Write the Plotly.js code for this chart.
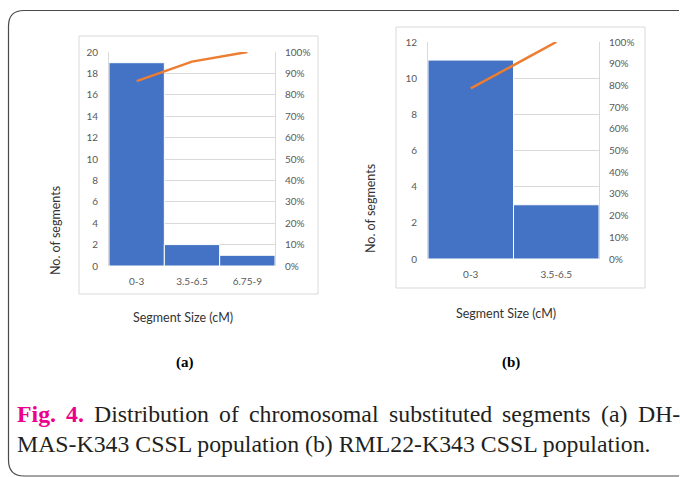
<!DOCTYPE html>
<html>
<head>
<meta charset="utf-8">
<script src="https://cdn.plot.ly/plotly-3.0.1.min.js"></script>
<style>html,body{margin:0;padding:0;background:#fff;}#chart{width:680px;height:477px;}</style>
</head>
<body>
<div id="chart"></div>
<script>
// ---- data ----
const catsA = ['0-3', '3.5-6.5', '6.75-9'];
const countsA = [19, 2, 1];
const cumPctA = [86.4, 95.5, 100];

const catsB = ['0-3', '3.5-6.5'];
const countsB = [11, 3];
const cumPctB = [78.6, 100];

const yTicksA = [0, 2, 4, 6, 8, 10, 12, 14, 16, 18, 20];
const yTicksB = [0, 2, 4, 6, 8, 10, 12];
const pctTicks = [0, 10, 20, 30, 40, 50, 60, 70, 80, 90, 100];
const pctLabels = ['0%', '10%', '20%', '30%', '40%', '50%', '60%', '70%', '80%', '90%', '100%'];

const xTitle = 'Segment Size (cM)';
const yTitle = 'No. of segments';
const panelLabels = ['(a)', '(b)'];
const captionLine1 = ['Fig.', '4.', 'Distribution', 'of', 'chromosomal', 'substituted', 'segments', '(a)', 'DH-'];
const captionBold = [true, true, false, false, false, false, false, false, false];
const captionLine2 = 'MAS-K343 CSSL population (b) RML22-K343 CSSL population.';

// ---- helpers ----
const W = 680, H = 477;
const px = x => x / W;
const py = y => 1 - y / H;

const BLUE = '#4472C4', ORANGE = '#ED7D31', GRID = '#d9d9d9', TICK = '#595959';
const tickFont = {family: 'Lato, sans-serif', size: 10, color: TICK};
const titleFont = {family: 'Lato, sans-serif', size: 12.5, color: '#333333'};

// ---- traces ----
const traces = [
  {type: 'bar', x: catsA, y: countsA, xaxis: 'x', yaxis: 'y',
   marker: {color: BLUE, line: {color: '#ffffff', width: 1}}, hoverinfo: 'none'},
  {type: 'scatter', mode: 'lines', x: catsA, y: cumPctA, xaxis: 'x', yaxis: 'y2',
   line: {color: ORANGE, width: 2.5}, hoverinfo: 'none'},
  {type: 'bar', x: catsB, y: countsB, xaxis: 'x2', yaxis: 'y3',
   marker: {color: BLUE, line: {color: '#ffffff', width: 1}}, hoverinfo: 'none'},
  {type: 'scatter', mode: 'lines', x: catsB, y: cumPctB, xaxis: 'x2', yaxis: 'y4',
   line: {color: ORANGE, width: 2.5}, hoverinfo: 'none'}
];

function xAx(domain, n) {
  return {domain: domain, type: 'category', range: [-0.5, n - 0.5], showgrid: false,
    zeroline: false, showline: false, ticks: '', tickfont: tickFont, ticklabelstandoff: 8, fixedrange: true};
}
function yLeft(domain, ticks, anchor) {
  return {domain: domain, anchor: anchor, range: [ticks[0], ticks[ticks.length - 1]],
    tickmode: 'array', tickvals: ticks,
    showgrid: true, gridcolor: GRID, gridwidth: 1, zeroline: false, showline: true, linecolor: GRID,
    linewidth: 1, ticks: '', tickfont: tickFont, ticklabelstandoff: 8, layer: 'below traces'};
}
function yRight(overlay, anchor) {
  return {overlaying: overlay, anchor: anchor, side: 'right', range: [0, 100],
    tickmode: 'array', tickvals: pctTicks, ticktext: pctLabels,
    showgrid: false, zeroline: false, showline: true, linecolor: GRID, linewidth: 1,
    ticks: '', tickfont: tickFont, ticklabelstandoff: 7, layer: 'below traces'};
}

// ---- caption layout (justified line 1) ----
const ctx = document.createElement('canvas').getContext('2d');
function tw(text, fs, bold) {
  ctx.font = (bold ? 'bold ' : '') + fs + 'px "Liberation Serif"';
  return ctx.measureText(text).width;
}
const capLeft = 17, line2Right = 652, line1Right = 680;
let capFs = 100 * (line2Right - capLeft) / tw(captionLine2, 100, false);
capFs = Math.round(capFs * 10) / 10;
const widths = captionLine1.map((w, i) => tw(w, capFs, captionBold[i]));
const totalW = widths.reduce((a, b) => a + b, 0);
const gap = (line1Right - capLeft - totalW) / (captionLine1.length - 1);

const annotations = [];
let cx = capLeft;
captionLine1.forEach((w, i) => {
  annotations.push({xref: 'paper', yref: 'paper', x: px(cx), y: py(414), xanchor: 'left', yanchor: 'middle',
    text: captionBold[i] ? '<b>' + w + '</b>' : w, showarrow: false, borderpad: 0, borderwidth: 0,
    font: {family: 'Liberation Serif, serif', size: capFs, color: captionBold[i] ? '#EC008C' : '#231F20'}});
  cx += widths[i] + gap;
});
annotations.push({xref: 'paper', yref: 'paper', x: px(capLeft), y: py(444), xanchor: 'left', yanchor: 'middle',
  text: captionLine2, showarrow: false, borderpad: 0, borderwidth: 0,
  font: {family: 'Liberation Serif, serif', size: capFs, color: '#231F20'}});

// panel labels
[[185, panelLabels[0]], [511, panelLabels[1]]].forEach(([x, t]) => {
  annotations.push({xref: 'paper', yref: 'paper', x: px(x), y: py(362), xanchor: 'center', yanchor: 'middle',
    text: '<b>' + t + '</b>', showarrow: false, font: {family: 'Liberation Serif, serif', size: 15, color: '#000'}});
});
// axis titles
annotations.push({xref: 'paper', yref: 'paper', x: px(183), y: py(317), xanchor: 'center', yanchor: 'middle',
  text: xTitle, showarrow: false, font: titleFont});
annotations.push({xref: 'paper', yref: 'paper', x: px(506), y: py(313), xanchor: 'center', yanchor: 'middle',
  text: xTitle, showarrow: false, font: titleFont});
annotations.push({xref: 'paper', yref: 'paper', x: px(55), y: py(231), xanchor: 'center', yanchor: 'middle',
  text: yTitle, textangle: -90, showarrow: false, font: titleFont});
annotations.push({xref: 'paper', yref: 'paper', x: px(370), y: py(208), xanchor: 'center', yanchor: 'middle',
  text: yTitle, textangle: -90, showarrow: false, font: titleFont});

// ---- shapes: chart boxes and outer frame ----
const shapes = [
  {type: 'rect', xref: 'paper', yref: 'paper', x0: px(79), x1: px(318), y0: py(294), y1: py(36),
   line: {color: GRID, width: 1}, layer: 'below'},
  {type: 'rect', xref: 'paper', yref: 'paper', x0: px(396), x1: px(645), y0: py(288), y1: py(27),
   line: {color: GRID, width: 1}, layer: 'below'},
  {type: 'path', xref: 'paper', yref: 'paper',
   path: 'M ' + px(679) + ',' + py(10.5) + ' L ' + px(24) + ',' + py(10.5) +
         ' Q ' + px(8.5) + ',' + py(10.5) + ' ' + px(8.5) + ',' + py(26) +
         ' L ' + px(8.5) + ',' + py(460) +
         ' Q ' + px(8.5) + ',' + py(476) + ' ' + px(24) + ',' + py(476) +
         ' L ' + px(679) + ',' + py(476),
   line: {color: '#4a4a4a', width: 1.2}, layer: 'below'}
];

const layout = {
  width: W, height: H, autosize: false,
  margin: {l: 0, r: 0, t: 0, b: 0},
  paper_bgcolor: '#ffffff', plot_bgcolor: 'rgba(0,0,0,0)',
  showlegend: false, bargap: 0,
  xaxis: Object.assign(xAx([px(109), px(275)], catsA.length), {anchor: 'y'}),
  yaxis: yLeft([py(266), py(52)], yTicksA, 'x'),
  yaxis2: yRight('y', 'x'),
  xaxis2: Object.assign(xAx([px(428), px(599)], catsB.length), {anchor: 'y3'}),
  yaxis3: yLeft([py(259), py(42)], yTicksB, 'x2'),
  yaxis4: yRight('y3', 'x2'),
  annotations: annotations,
  shapes: shapes
};

Plotly.newPlot('chart', traces, layout, {displayModeBar: false, staticPlot: true});
</script>
</body>
</html>
